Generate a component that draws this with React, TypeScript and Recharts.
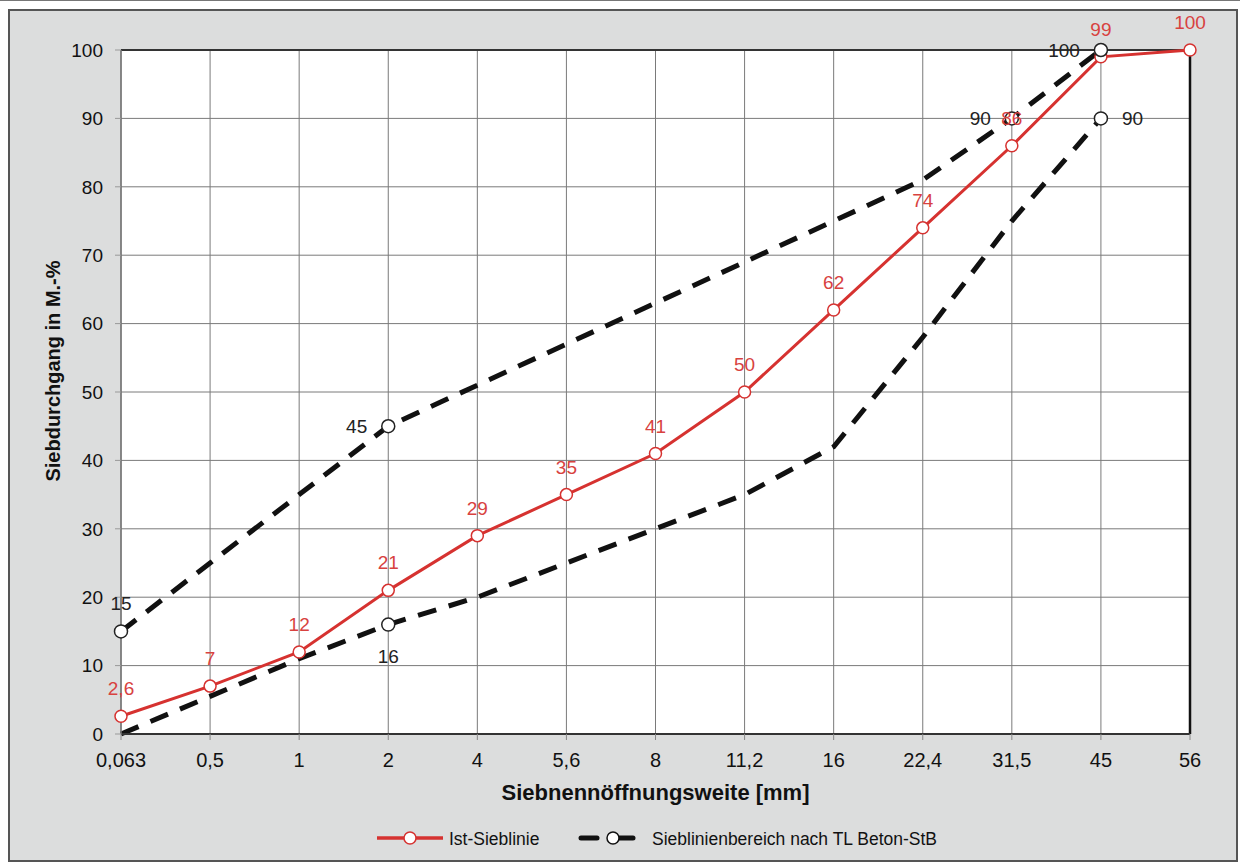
import React from 'react';
import { LineChart, Line, XAxis, YAxis, CartesianGrid, ReferenceLine, LabelList } from 'recharts';

const sieveSizes = ['0,063', '0,5', '1', '2', '4', '5,6', '8', '11,2', '16', '22,4', '31,5', '45', '56'];
const istValues = [2.6, 7, 12, 21, 29, 35, 41, 50, 62, 74, 86, 99, 100];
const upperLimit = [15, 25, 35, 45, 51, 57, 63, 69, 75, 81, 90, 100, null];
const lowerLimit = [0, 5.5, 11, 16, 20, 25, 30, 35, 42, 58, 75, 90, null];
const yTicks = [0, 10, 20, 30, 40, 50, 60, 70, 80, 90, 100];

const data = sieveSizes.map((size, i) => ({
  size,
  ist: istValues[i],
  upper: upperLimit[i],
  lower: lowerLimit[i],
}));

// points of the limit curves that get a circle + label, and where the label goes
const upperMarks: Record<number, string> = { 0: 'top', 3: 'left', 10: 'left', 11: 'left' };
const lowerMarks: Record<number, string> = { 3: 'bottom', 11: 'right' };

const RED = '#d63230';
const RED_TEXT = '#d8423f';
const FONT = '"Liberation Sans", Arial, sans-serif';

const fmt = (v: number) => String(v).replace('.', ',');

const istLabel = (props: any) => {
  const { x, y, value, index } = props;
  return (
    <text key={`il${index}`} x={x} y={y - 21} textAnchor="middle" fontSize={19} fill={RED_TEXT} fontFamily={FONT}>
      {fmt(value)}
    </text>
  );
};

const limitLabel = (marks: Record<number, string>) => (props: any) => {
  const { x, y, value, index } = props;
  const pos = marks[index];
  if (!pos || value == null) return null;
  let tx = x;
  let ty = y + 7;
  let anchor = 'middle';
  if (pos === 'top') ty = y - 21;
  if (pos === 'bottom') ty = y + 38;
  if (pos === 'left') {
    tx = x - 21;
    anchor = 'end';
  }
  if (pos === 'right') {
    tx = x + 21;
    anchor = 'start';
  }
  return (
    <text key={`l${index}`} x={tx} y={ty} textAnchor={anchor as any} fontSize={19} fill="#222" fontFamily={FONT}>
      {fmt(value)}
    </text>
  );
};

const limitDot = (marks: Record<number, string>) => (props: any) => {
  const { cx, cy, index } = props;
  if (!(index in marks) || cy == null) return <g key={`d${index}`} />;
  return <circle key={`d${index}`} cx={cx} cy={cy} r={6.5} fill="#fff" stroke="#222" strokeWidth={1.5} />;
};

const YTitle = (props: any) => {
  const { viewBox } = props;
  const x = viewBox.x - 8;
  const y = viewBox.y + viewBox.height / 2 - 21;
  return (
    <text x={x} y={y} transform={`rotate(-90, ${x}, ${y})`} textAnchor="middle" dominantBaseline="central"
      fontSize={20} fontWeight="bold" fill="#111" fontFamily={FONT}>
      Siebdurchgang in M.-%
    </text>
  );
};

const XTitle = (props: any) => {
  const { viewBox } = props;
  return (
    <text x={viewBox.x + viewBox.width / 2} y={800} textAnchor="middle"
      fontSize={22} fontWeight="bold" fill="#111" fontFamily={FONT}>
      Siebnennöffnungsweite [mm]
    </text>
  );
};

export default function App() {
  return (
    <div style={{ position: 'absolute', left: 0, top: 0, width: 1240, height: 865, background: '#fff', fontFamily: FONT }}>
      <div style={{ position: 'absolute', left: 0, top: 0, width: 1240, height: 1, background: '#777' }} />
      <div style={{
        position: 'absolute', left: 8, top: 9, width: 1230, height: 853,
        background: '#dcdddd', border: '2px solid #555', boxSizing: 'border-box',
      }} />
      <div style={{ position: 'absolute', left: 0, top: 0 }}>
        <LineChart width={1240} height={865} data={data} margin={{ top: 50, right: 50, bottom: 91, left: 61 }}>
          <CartesianGrid stroke="#7a7a7a" strokeWidth={1} fill="#fff" />
          <XAxis
            dataKey="size"
            height={40}
            interval={0}
            tickSize={6}
            tickMargin={13}
            stroke="#333"
            axisLine={{ stroke: '#333', strokeWidth: 2 }}
            tickLine={{ stroke: '#888' }}
            tick={{ fontSize: 20, fill: '#111', fontFamily: FONT }}
            label={<XTitle />}
          />
          <YAxis
            width={60}
            domain={[0, 100]}
            ticks={yTicks}
            interval={0}
            tickSize={6}
            tickMargin={12}
            axisLine={{ stroke: '#777', strokeWidth: 1.5 }}
            tickLine={{ stroke: '#999' }}
            tick={{ fontSize: 19, fill: '#111', fontFamily: FONT }}
            label={<YTitle />}
          />
          <ReferenceLine y={100} stroke="#333" strokeWidth={2} />
          <ReferenceLine x="56" stroke="#111" strokeWidth={2.5} />
          <Line
            dataKey="ist"
            stroke={RED}
            strokeWidth={3}
            dot={{ r: 6, fill: '#fff', stroke: RED, strokeWidth: 1.5 }}
            isAnimationActive={false}
          >
            <LabelList dataKey="ist" content={istLabel} />
          </Line>
          <Line
            dataKey="lower"
            stroke="#111"
            strokeWidth={5}
            strokeDasharray="19 13"
            dot={limitDot(lowerMarks)}
            isAnimationActive={false}
          >
            <LabelList dataKey="lower" content={limitLabel(lowerMarks)} />
          </Line>
          <Line
            dataKey="upper"
            stroke="#111"
            strokeWidth={5}
            strokeDasharray="19 13"
            dot={limitDot(upperMarks)}
            isAnimationActive={false}
          >
            <LabelList dataKey="upper" content={limitLabel(upperMarks)} />
          </Line>
        </LineChart>
      </div>
      <svg style={{ position: 'absolute', left: 0, top: 815 }} width={1240} height={45}>
        <line x1={377} y1={23} x2={443} y2={23} stroke={RED} strokeWidth={3.5} />
        <circle cx={410} cy={23} r={6} fill="#fff" stroke={RED} strokeWidth={1.5} />
        <text x={449} y={29.5} fontSize={17.5} fill="#111" fontFamily={FONT}>Ist-Sieblinie</text>
        <line x1={581} y1={23} x2={597} y2={23} stroke="#111" strokeWidth={5} strokeLinecap="round" />
        <line x1={612} y1={23} x2={633} y2={23} stroke="#111" strokeWidth={5} strokeLinecap="round" />
        <circle cx={613} cy={23} r={6} fill="#fff" stroke="#111" strokeWidth={1.5} />
        <text x={652} y={29.5} fontSize={17.5} fill="#111" fontFamily={FONT}>Sieblinienbereich nach TL Beton-StB</text>
      </svg>
    </div>
  );
}
